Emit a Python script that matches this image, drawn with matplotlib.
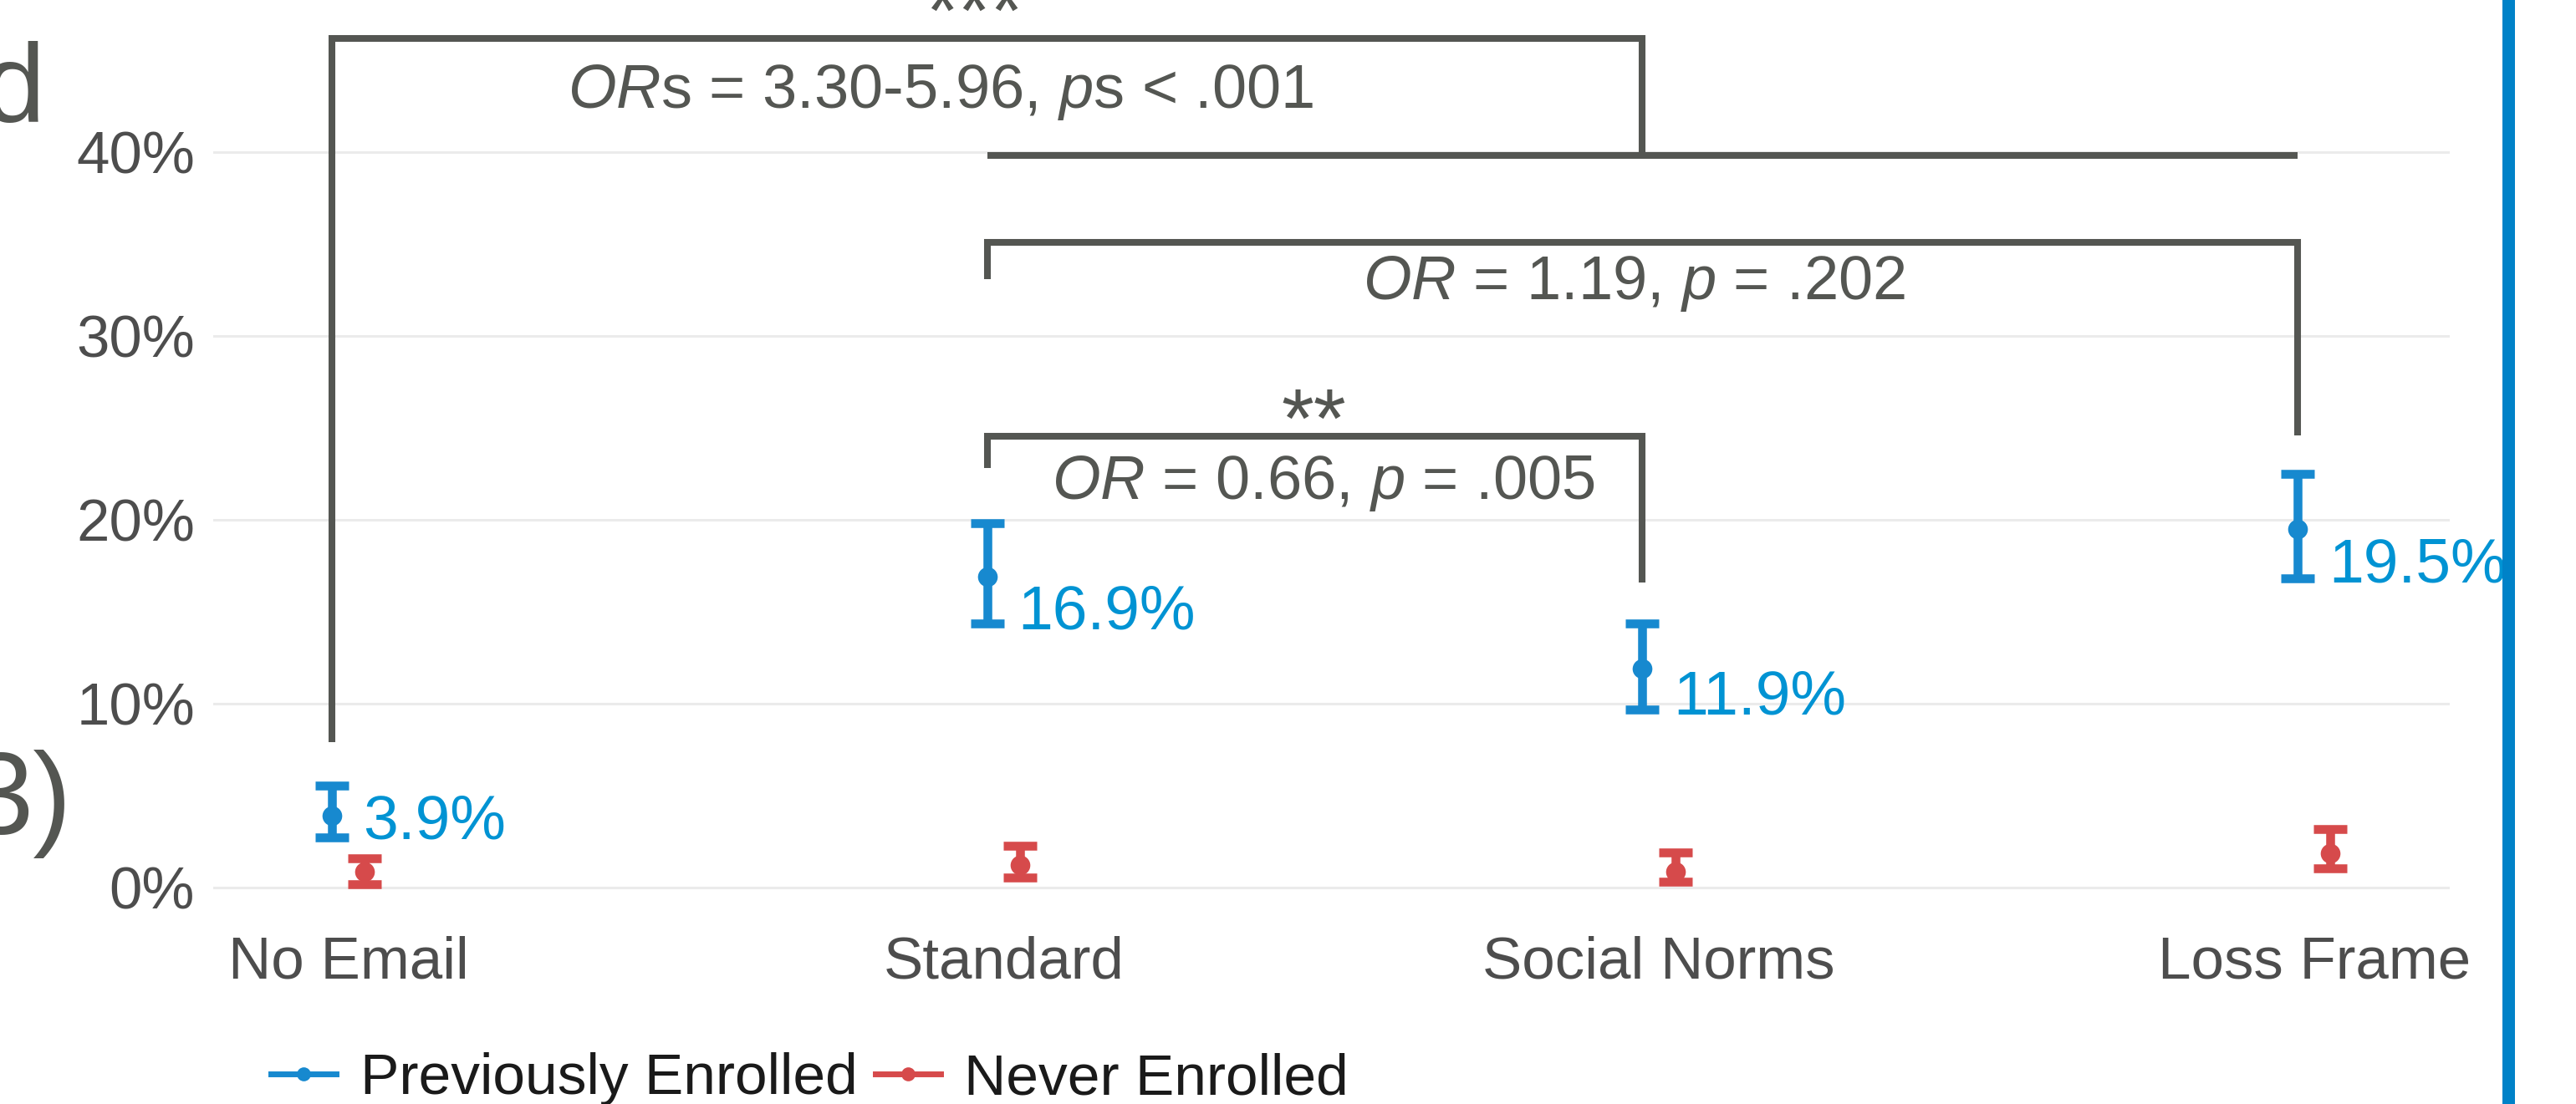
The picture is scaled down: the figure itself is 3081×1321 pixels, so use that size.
import matplotlib
matplotlib.use("Agg")
import matplotlib.pyplot as plt
import numpy as np
from matplotlib.lines import Line2D
from matplotlib.patches import Rectangle

plt.rcParams['font.family'] = ['Liberation Sans', 'DejaVu Sans']
plt.rcParams['mathtext.fontset'] = 'custom'
plt.rcParams['mathtext.rm'] = 'Liberation Sans'
plt.rcParams['mathtext.it'] = 'Liberation Sans:italic'

# ---------------- data ----------------
categories = ["No Email", "Standard", "Social Norms", "Loss Frame"]
prev_pct = [3.9, 16.9, 11.9, 19.5]
prev_lo = [2.73, 14.38, 9.7, 16.8]
prev_hi = [5.55, 19.83, 14.36, 22.52]
never_pct = [0.86, 1.23, 0.86, 1.86]
never_lo = [0.18, 0.53, 0.32, 1.05]
never_hi = [1.57, 2.27, 1.92, 3.2]
series_names = ["Previously Enrolled", "Never Enrolled"]
yticks = [0, 10, 20, 30, 40]
ytick_labels = ["0%", "10%", "20%", "30%", "40%"]
comparison_texts = [r"$\mathit{OR}$s = 3.30-5.96, $\mathit{p}$s < .001",
                    r"$\mathit{OR}$ = 1.19, $\mathit{p}$ = .202",
                    r"$\mathit{OR}$ = 0.66, $\mathit{p}$ = .005"]
comparison_stars = ["***", "", "**"]

# ---------------- style ----------------
BLUE = '#1789CF'
LBLUE = '#0093D3'
RED = '#D64A4B'
GRAY = '#545652'
TICK = '#4D4D4D'

W, H, DPI = 3081, 1321, 200
fig = plt.figure(figsize=(W / DPI, H / DPI), dpi=DPI)
fig.patch.set_facecolor('white')
ax = fig.add_axes([255 / W, (H - 1090) / H, (2930 - 255) / W, 1090 / H])
ax.set_xlim(-0.206, 3.207)
ax.set_ylim(-1.273, 1062 / 22)

for s in ax.spines.values():
    s.set_visible(False)
ax.set_yticks(yticks)
ax.set_yticklabels(ytick_labels)
x = np.arange(len(categories))
ax.set_xticks(x)
ax.set_xticklabels(categories)
ax.tick_params(axis='both', length=0, labelsize=25.5, labelcolor=TICK)
ax.tick_params(axis='y', pad=7.9)
ax.tick_params(axis='x', pad=10.5)
ax.yaxis.grid(True, color='#EBEBEB', lw=1.1)
ax.xaxis.grid(False)
ax.set_axisbelow(True)

dodge = 0.025
prev = np.array(prev_pct)
nev = np.array(never_pct)
ax.errorbar(x - dodge, prev, yerr=[prev - np.array(prev_lo), np.array(prev_hi) - prev],
            fmt='o', color=BLUE, ms=7.5, elinewidth=3.8, capsize=7.2, capthick=3.8, zorder=3)
ax.errorbar(x + dodge, nev, yerr=[nev - np.array(never_lo), np.array(never_hi) - nev],
            fmt='o', color=RED, ms=7.5, elinewidth=3.8, capsize=7.2, capthick=3.8, zorder=3)

label_base = [2.64, 14.09, 9.45, 16.6]
for i, v in enumerate(prev_pct):
    ax.text(i + 0.022, label_base[i], f"{v:.1f}%", color=LBLUE, fontsize=27,
            ha='left', va='baseline', zorder=4)

# ---------------- comparison brackets ----------------
def bracket(x1, x2, y, y1, y2):
    ax.plot([x1, x1, x2, x2], [y1, y, y, y2], color=GRAY, lw=2.9,
            solid_capstyle='butt', solid_joinstyle='miter', clip_on=False, zorder=2)

bx = x - dodge
# No Email vs all email conditions (group line)
ax.plot([bx[1], bx[3]], [39.84, 39.84], color=GRAY, lw=2.9, solid_capstyle='butt', zorder=2)
bracket(bx[0], (bx[1] + bx[3]) / 2, 46.16, 7.9, 39.84)
bracket(bx[1], bx[3], 35.07, 33.1, 24.6)
bracket(bx[1], bx[2], 24.55, 22.8, 16.6)

text_pos = [(0.905, 42.4), (1.963, 32.0), (1.488, 21.14)]
for (tx, ty), t in zip(text_pos, comparison_texts):
    ax.text(tx, ty, t, ha='center', va='baseline', fontsize=26.7, color=GRAY, zorder=4)
star_pos = [(0.956, 46.15), None, (1.473, 23.95)]
for p, s in zip(star_pos, comparison_stars):
    if p is not None and s:
        ax.text(p[0], p[1], s, ha='center', va='baseline', fontsize=36, color=GRAY,
                clip_on=False, zorder=4)

# ---------------- legend ----------------
handles = [Line2D([], [], color=BLUE, lw=2.5, marker='o', ms=5),
           Line2D([], [], color=RED, lw=2.5, marker='o', ms=5)]
fig.legend(handles, series_names, loc='center left', bbox_to_anchor=(324 / W, 30 / H),
           ncol=2, frameon=False, fontsize=25, handlelength=1.13, handletextpad=0.41,
           columnspacing=0.3, borderpad=0, borderaxespad=0, labelcolor='#1a1a1a')

# ---------------- slide fragments (cut off at the left edge) ----------------
fig.text(54 / W, 1 - 146 / H, "d", fontsize=48, ha='right', va='baseline', color=GRAY)
fig.text(86 / W, 1 - 998 / H, "3)", fontsize=50, ha='right', va='baseline', color=GRAY)
fig.add_artist(Rectangle((2993 / W, 0), 15 / W, 1, transform=fig.transFigure,
                         color='#0082C8', lw=0))

fig.savefig("out.png", dpi=DPI, facecolor='white')
